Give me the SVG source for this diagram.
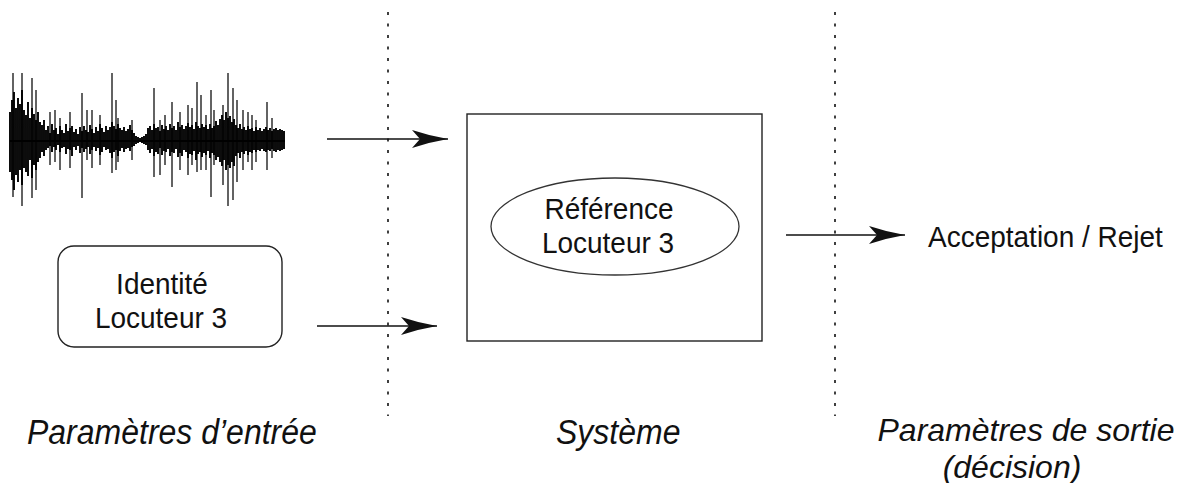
<svg xmlns="http://www.w3.org/2000/svg" width="1192" height="483" viewBox="0 0 1192 483">
  <style>
    .txt { font-family: "Liberation Sans", Arial, sans-serif; font-size: 28px; fill: #111; }
    .lbl { font-family: "Liberation Sans", Arial, sans-serif; font-size: 32px; font-style: italic; fill: #111; }
    .sep { stroke: #111; stroke-width: 1.6; stroke-dasharray: 3 8.5; fill: none; }
    .edge { stroke: #111; stroke-width: 1.6; fill: none; marker-end: url(#head); }
    .frame { fill: #fff; stroke: #222; stroke-width: 1.4; }
  </style>
  <defs>
    <marker id="head" markerUnits="userSpaceOnUse" viewBox="0 -10 37 20" refX="36" refY="0" markerWidth="37" markerHeight="20" orient="auto">
      <path d="M0,-9 Q18,-3 36,0 Q18,3 0,9 L8,0 Z" fill="#111"/>
    </marker>
  </defs>
  <rect width="1192" height="483" fill="#fff"/>

  <!-- column separators -->
  <g id="separators">
    <line class="sep" x1="388" y1="12" x2="388" y2="416"/>
    <line class="sep" x1="835" y1="12" x2="835" y2="416"/>
  </g>

  <!-- speech waveform -->
  <g id="waveform">
    <path stroke="#222" stroke-width="1.4" fill="none" d="M13,73V197 M22,73V206 M32,78V198 M36,90V190 M50,112V165 M55,110V162 M60,118V170 M70,112V168 M82,93V198 M87,110V160 M92,110V168 M100,115V165 M112,73V173 M116,100V170 M118,118V162 M132,120V160 M154,88V177 M160,120V175 M165,115V165 M172,102V187 M180,112V170 M188,105V175 M192,108V165 M197,82V172 M201,95V170 M206,115V170 M211,90V197 M214,110V165 M223,105V185 M228,73V206 M233,88V200 M237,100V182 M243,110V170 M248,112V162 M252,115V170 M256,120V162 M267,102V170 M272,118V158"/>
    <path stroke="#000" stroke-width="1.9" fill="none" d="M10,112V172 M12,100V180 M14,92V190 M16,108V175 M18,98V182 M20,104V170 M22,90V185 M24,110V168 M26,115V172 M28,102V176 M30,118V160 M32,108V178 M34,114V165 M36,120V170 M38,112V162 M40,122V158 M42,125V152 M44,120V156 M46,130V150 M48,126V148 M50,133V146 M52,124V152 M54,130V147 M56,128V150 M58,134V145 M60,126V152 M62,130V148 M64,133V147 M66,124V154 M68,131V149 M70,128V150 M72,126V156 M74,132V147 M76,129V150 M78,134V146 M80,127V153 M82,131V148 M84,126V152 M86,130V149 M88,132V147 M90,125V154 M92,129V150 M94,133V147 M96,127V151 M98,131V148 M100,124V155 M102,128V152 M104,132V147 M106,126V150 M108,130V149 M110,127V153 M112,122V158 M114,126V152 M116,129V150 M118,124V156 M120,128V151 M122,130V148 M124,127V152 M126,131V149 M128,129V148 M130,125V151 M132,130V147 M134,133V146 M136,136V144 M138,137V143 M140,138V142 M142,137V143 M144,136V144 M146,134V145 M148,128V150 M150,126V153 M152,130V149 M154,124V156 M156,128V152 M158,127V154 M160,131V148 M162,125V155 M164,129V151 M166,126V152 M168,130V149 M170,124V156 M172,128V152 M174,126V153 M176,130V149 M178,122V157 M180,127V153 M182,125V156 M184,129V150 M186,126V152 M188,123V158 M190,127V154 M192,125V155 M194,129V151 M196,122V160 M198,126V154 M200,128V152 M202,124V157 M204,127V153 M206,125V155 M208,129V151 M210,124V158 M212,128V153 M214,126V155 M216,121V160 M218,125V157 M220,119V162 M222,115V166 M224,120V160 M226,112V170 M228,118V165 M230,116V168 M232,122V162 M234,119V166 M236,125V156 M238,128V153 M240,124V158 M242,129V152 M244,127V154 M246,130V151 M248,126V155 M250,129V152 M252,128V153 M254,131V150 M256,127V152 M258,130V150 M260,128V151 M262,131V149 M264,129V151 M266,127V152 M268,130V150 M270,128V151 M272,131V149 M274,129V151 M276,128V152 M278,130V150 M280,129V151 M282,130V150 M284,131V149"/>
    <line x1="10" y1="141" x2="285" y2="141" stroke="#000" stroke-width="2"/>
  </g>

  <!-- speaker identity -->
  <g id="identity">
    <rect class="frame" x="58" y="246" width="224" height="101" rx="16" ry="16"/>
    <text class="txt" transform="translate(162 294) scale(1 1.08)" text-anchor="middle">Identité</text>
    <text class="txt" transform="translate(161 328) scale(1 1.08)" text-anchor="middle">Locuteur 3</text>
  </g>

  <!-- verification system -->
  <g id="system">
    <rect class="frame" x="467" y="114" width="295" height="227"/>
    <ellipse cx="615" cy="226.5" rx="124" ry="48.5" fill="#fff" stroke="#333" stroke-width="1.3"/>
    <text class="txt" transform="translate(609 219) scale(1 1.08)" text-anchor="middle">Référence</text>
    <text class="txt" transform="translate(608 253) scale(1 1.08)" text-anchor="middle">Locuteur 3</text>
  </g>

  <!-- decision output -->
  <g id="decision">
    <text class="txt" transform="translate(928 247) scale(1 1.08)">Acceptation / Rejet</text>
  </g>

  <!-- connectors -->
  <g id="connectors">
    <line class="edge" x1="327" y1="139" x2="448" y2="139"/>
    <line class="edge" x1="317" y1="326" x2="437" y2="326"/>
    <line class="edge" x1="786" y1="235" x2="905" y2="235"/>
  </g>

  <!-- column captions -->
  <g id="captions">
    <text class="lbl" transform="translate(27 444) scale(1 1.07)">Paramètres d’entrée</text>
    <text class="lbl" transform="translate(556 444) scale(1 1.07)">Système</text>
    <text class="lbl" x="1026" y="441" text-anchor="middle" font-size="31">Paramètres de sortie</text>
    <text class="lbl" x="1012" y="478" text-anchor="middle" font-size="31">(décision)</text>
  </g>
</svg>
